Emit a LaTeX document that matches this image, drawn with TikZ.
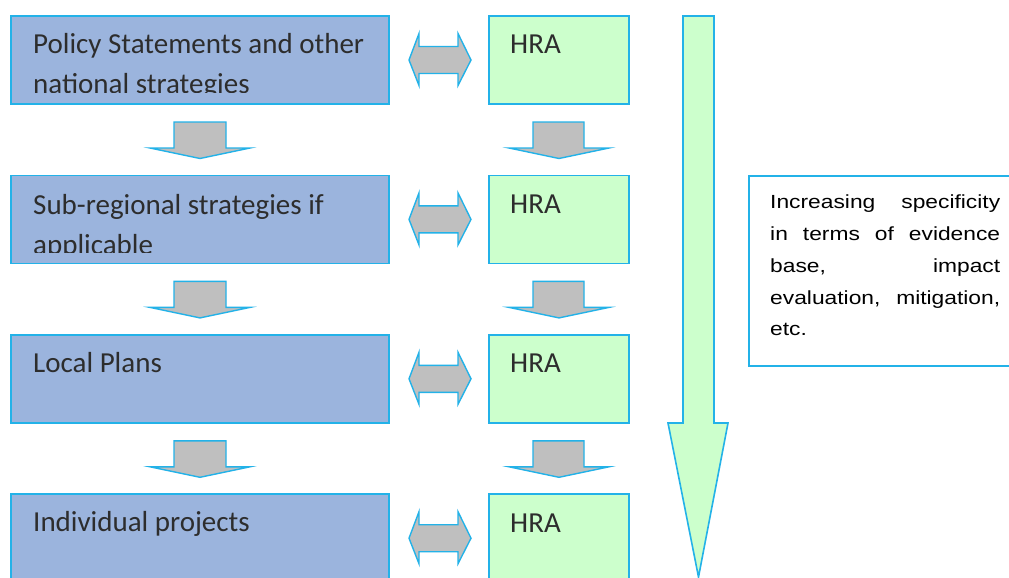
\documentclass[tikz,border=0pt]{standalone}
\usepackage{fontspec}
\setmainfont{Carlito}
\newfontfamily\arialf[FakeStretch=1.2]{Liberation Sans}
\definecolor{bfill}{RGB}{155,180,221}
\definecolor{edge}{RGB}{35,178,232}
\definecolor{gfill}{RGB}{204,255,204}
\definecolor{afill}{RGB}{191,191,191}
\definecolor{txt}{RGB}{45,45,45}
\begin{document}
\begin{tikzpicture}[x=1pt,y=-1pt,
  plan/.style={draw=edge, line width=1.6pt, fill=bfill, minimum width=378pt, minimum height=88pt, anchor=north west, inner sep=0pt, outer sep=0pt},
  hra/.style={draw=edge, line width=1.6pt, fill=gfill, minimum width=140pt, minimum height=88pt, anchor=north west, inner sep=0pt, outer sep=0pt},
  blockarrow/.style={draw=edge, line width=1.4pt, fill=afill, line join=miter},
  lbl/.style={anchor=base west, inner sep=0pt, font=\fontsize{29}{40}\selectfont, text=txt},
  spec/.style={anchor=base west, inner sep=0pt, font=\arialf\fontsize{19}{24}\selectfont, text=black}]
\useasboundingbox (0,0) rectangle (1009,578);
\fill[white] (0,0) rectangle (1009,578);
\clip (0,0) rectangle (1009,578);
% rows
\foreach \i/\t in {1/16,2/175.4,3/334.8,4/494.2}{
  \node[plan] (p\i) at (11,\t) {};
  \node[hra] (h\i) at (489,\t) {};
  \node[lbl] (ht\i) at (510,\t+38) {HRA};
  \pgfmathsetmacro{\c}{\t+44}
  \draw[blockarrow] (409,\c) -- (419,\c-26.5) -- (419,\c-13.5) -- (458,\c-13.5) -- (458,\c-26.5) -- (471,\c)
     -- (458,\c+25.5) -- (458,\c+13.5) -- (419,\c+13.5) -- (419,\c+25.5) -- cycle;
}
% down arrows between rows
\foreach \t in {16,175.4,334.8}{
  \draw[blockarrow] (174,\t+106) -- (226,\t+106) -- (226,\t+132) -- (250,\t+132) -- (200,\t+142.5) -- (150,\t+132) -- (174,\t+132) -- cycle;
  \draw[blockarrow] (533,\t+106) -- (584,\t+106) -- (584,\t+132) -- (609,\t+132) -- (559,\t+142.5) -- (509,\t+132) -- (533,\t+132) -- cycle;
}
% texts of plan boxes (clipped)
\begin{scope}
  \clip (11,16) rectangle (389,92);
  \node[lbl] (t1a) at (33,53) {Policy Statements and other};
  \node[lbl] (t1b) at (33,93) {national strategies};
\end{scope}
\begin{scope}
  \clip (11,175.4) rectangle (389,252);
  \node[lbl] (t2a) at (33,214) {Sub-regional strategies if};
  \node[lbl] (t2b) at (33,254) {applicable};
\end{scope}
\node[lbl] (t3) at (33,372) {Local Plans};
\node[lbl] (t4) at (33,531.5) {Individual projects};
% big vertical arrow
\draw[draw=edge, line width=1.6pt, fill=gfill, line join=miter]
  (683,16) -- (714,16) -- (714,423) -- (728,423) -- (698.5,577) -- (668,423) -- (683,423) -- cycle;
% text box
\node[draw=edge, line width=1.6pt, fill=white, minimum width=272pt, minimum height=190pt, anchor=north west, inner sep=0pt] (box) at (748,175) {};
\node[spec] (s1) at (770,208) {\makebox[230pt][s]{Increasing specificity}};
\node[spec] (s2) at (770,240) {\makebox[230pt][s]{in terms of evidence}};
\node[spec] (s3) at (770,272) {\makebox[230pt][s]{base, impact}};
\node[spec] (s4) at (770,304) {\makebox[230pt][s]{evaluation, mitigation,}};
\node[spec] (s5) at (770,335) {etc.};
\end{tikzpicture}
\end{document}
